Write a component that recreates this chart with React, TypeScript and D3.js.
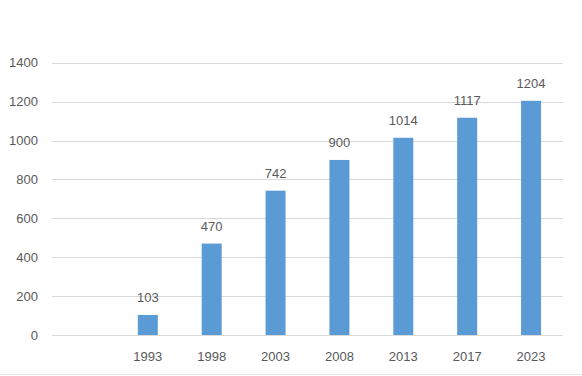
import React from "react";
import * as d3 from "d3";

const categories: string[] = ["", "1993", "1998", "2003", "2008", "2013", "2017", "2023"];
const values: (number | null)[] = [null, 103, 470, 742, 900, 1014, 1117, 1204];
const yTicks: number[] = [0, 200, 400, 600, 800, 1000, 1200, 1400];

const W = 582;
const H = 376;

export default function App() {
  const x = d3
    .scaleBand<string>()
    .domain(categories.map((c, i) => String(i)))
    .range([52, 563])
    .paddingInner(0.687)
    .paddingOuter(0.3435);
  const y = d3.scaleLinear().domain([0, 1400]).range([335, 62.7]);
  const font = "'Liberation Sans', Arial, sans-serif";
  const textColor = "#595959";

  return (
    <div style={{ position: "fixed", left: 0, top: 0, width: W, height: H, background: "#fff" }}>
      <svg width={W} height={H} style={{ display: "block" }}>
        <rect x={0} y={0} width={W} height={H} fill="#fff" />
        {yTicks.map((t) => (
          <g key={t}>
            <line
              x1={52}
              x2={563}
              y1={Math.round(y(t)) + 0.5}
              y2={Math.round(y(t)) + 0.5}
              stroke="#d9d9d9"
              strokeWidth={1}
            />
            <text
              x={38}
              y={y(t)}
              dy="0.35em"
              textAnchor="end"
              fontFamily={font}
              fontSize={13}
              fill={textColor}
            >
              {t}
            </text>
          </g>
        ))}
        {categories.map((c, i) => {
          const v = values[i];
          const bx = x(String(i)) as number;
          const bw = x.bandwidth();
          const cx = bx + bw / 2;
          return (
            <g key={i}>
              {v != null && (
                <>
                  <rect x={bx} y={y(v)} width={bw} height={y(0) - y(v)} fill="#5B9BD5" />
                  <text
                    x={cx}
                    y={y(v) - 12.5}
                    textAnchor="middle"
                    fontFamily={font}
                    fontSize={13}
                    fill={textColor}
                  >
                    {v}
                  </text>
                </>
              )}
              <text
                x={cx}
                y={356}
                dy="0.35em"
                textAnchor="middle"
                fontFamily={font}
                fontSize={13}
                fill={textColor}
              >
                {c}
              </text>
            </g>
          );
        })}
        <line x1={0} x2={W} y1={374.5} y2={374.5} stroke="#e6e6e6" strokeWidth={1} />
      </svg>
    </div>
  );
}
